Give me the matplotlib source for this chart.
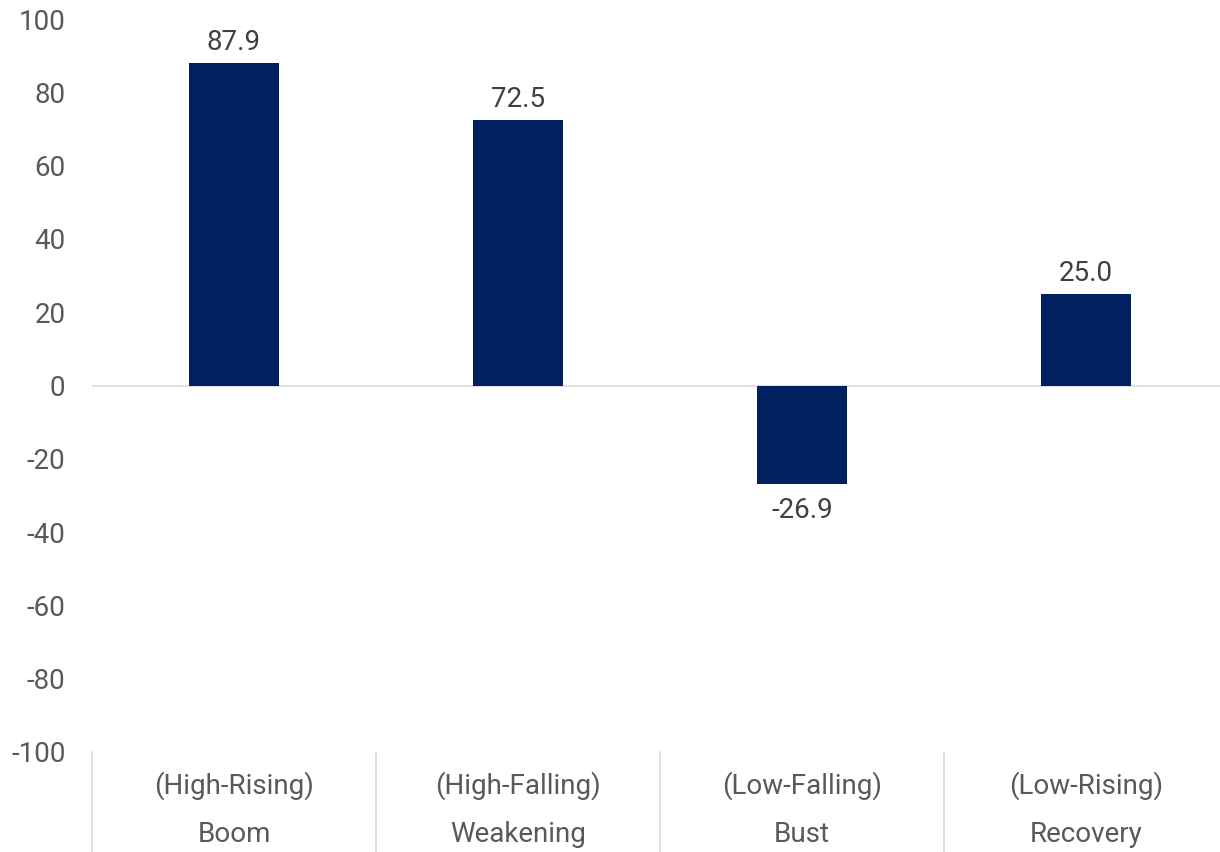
import numpy as np
import matplotlib.pyplot as plt
import matplotlib.transforms as mtransforms

plt.rcParams['font.family'] = ['Roboto', 'DejaVu Sans']

phases = ['(High-Rising)', '(High-Falling)', '(Low-Falling)', '(Low-Rising)']
names = ['Boom', 'Weakening', 'Bust', 'Recovery']
values = [87.9, 72.5, -26.9, 25.0]
yticks = [-100, -80, -60, -40, -20, 0, 20, 40, 60, 80, 100]

bar_color = '#002060'
tick_color = '#595959'
label_color = '#404040'

fig = plt.figure(figsize=(12.2, 8.52), dpi=100)
W, H = 1220, 852
ax = fig.add_axes([92 / W, (H - 752) / H, 1136 / W, (752 - 19) / H])

x = np.arange(len(values))
ax.bar(x, values, width=0.32, color=bar_color, zorder=3)

ax.set_xlim(-0.5, len(values) - 0.5)
ax.set_ylim(-100, 100)
ax.set_yticks(yticks)
ax.set_yticklabels([str(v) for v in yticks])
ax.tick_params(axis='y', length=0, pad=19, labelsize=20, labelcolor=tick_color)
ax.set_xticks([])
for s in ax.spines.values():
    s.set_visible(False)

ax.axhline(0, color='#d9d9d9', lw=1.2, zorder=2)

# value labels
for xi, v in zip(x, values):
    if v >= 0:
        ax.annotate(f'{v:.1f}', (xi, v), xytext=(0, 5), textcoords='offset points',
                    ha='center', va='bottom', fontsize=20, color=label_color)
    else:
        ax.annotate(f'{v:.1f}', (xi, v), xytext=(0, -9), textcoords='offset points',
                    ha='center', va='top', fontsize=20, color=label_color)

# category labels and separators below the axes
trans = mtransforms.blended_transform_factory(ax.transData, ax.transAxes)
bottom = -100 / (752 - 19)
for i in range(len(values) + 1):
    ax.plot([i - 0.5, i - 0.5], [0, bottom], transform=trans, color='#d9d9d9',
            lw=1.2, clip_on=False)
for xi, p, n in zip(x, phases, names):
    ax.text(xi, -34 / (752 - 19), p, transform=trans, ha='center', va='center',
            fontsize=20, color=tick_color)
    ax.text(xi, -83 / (752 - 19), n, transform=trans, ha='center', va='center',
            fontsize=20, color=tick_color)

fig.savefig('out.png', dpi=100)
